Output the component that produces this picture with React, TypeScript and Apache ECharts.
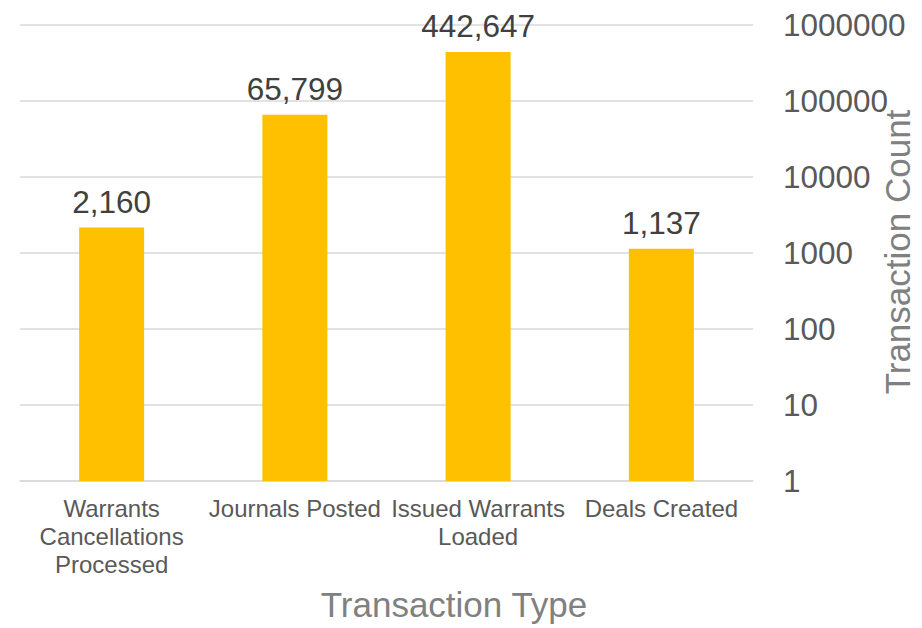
import React, { useEffect, useRef } from "react";
import * as echarts from "echarts";

const categories: string[] = [
  "Warrants\nCancellations\nProcessed",
  "Journals Posted",
  "Issued Warrants\nLoaded",
  "Deals Created",
];
const counts: number[] = [2160, 65799, 442647, 1137];
const xAxisTitle = "Transaction Type";
const yAxisTitle = "Transaction Count";
const FONT = "Arial";

export default function App() {
  const ref = useRef<HTMLDivElement>(null);
  useEffect(() => {
    if (!ref.current) return;
    const chart = echarts.init(ref.current, undefined, { renderer: "svg" });
    chart.setOption({
      animation: false,
      backgroundColor: "#ffffff",
      textStyle: { fontFamily: FONT },
      grid: { left: 20, right: 169, top: 25, bottom: 147, containLabel: false },
      xAxis: {
        type: "category",
        data: categories,
        axisLine: { show: true, lineStyle: { color: "#D9D9D9", width: 1.5 } },
        axisTick: { show: false },
        axisLabel: {
          interval: 0,
          color: "#595959",
          fontSize: 24,
          lineHeight: 28,
          margin: 13,
          fontFamily: FONT,
        },
      },
      yAxis: {
        type: "log",
        logBase: 10,
        min: 1,
        max: 1000000,
        position: "right",
        axisLine: { show: false },
        axisTick: { show: false },
        splitLine: { show: true, lineStyle: { color: "#D9D9D9", width: 1.5 } },
        axisLabel: {
          color: "#595959",
          fontSize: 31.5,
          margin: 30,
          fontFamily: FONT,
          formatter: (v: number) => String(Math.round(v)),
        },
      },
      graphic: [
        {
          type: "text",
          x: 454,
          y: 604,
          style: {
            text: xAxisTitle,
            fill: "#808080",
            fontSize: 35,
            fontFamily: FONT,
            textAlign: "center",
            textVerticalAlign: "middle",
          },
        },
        {
          type: "text",
          x: 897,
          y: 252,
          rotation: Math.PI / 2,
          style: {
            text: yAxisTitle,
            fill: "#808080",
            fontSize: 35,
            fontFamily: FONT,
            textAlign: "center",
            textVerticalAlign: "middle",
          },
        },
      ],
      series: [
        {
          type: "bar",
          data: counts,
          barWidth: 65,
          itemStyle: { color: "#FFC000" },
          label: {
            show: true,
            position: "top",
            distance: 10,
            color: "#404040",
            fontSize: 31.5,
            fontFamily: FONT,
            formatter: (p: any) => Number(p.value).toLocaleString("en-US"),
          },
        },
      ],
    });
    return () => chart.dispose();
  }, []);
  return (
    <div
      ref={ref}
      style={{ position: "fixed", left: 0, top: 0, width: 922, height: 628 }}
    />
  );
}
